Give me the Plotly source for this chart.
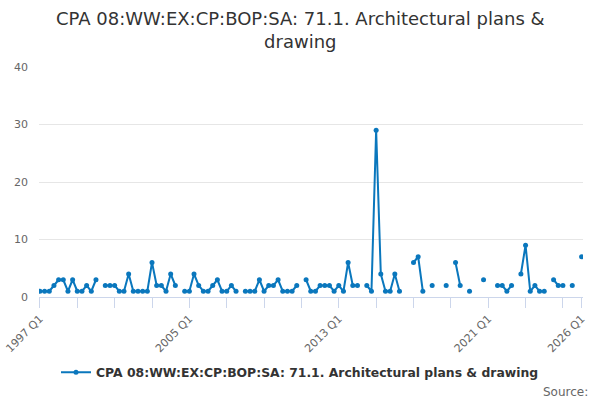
import plotly.graph_objects as go

# Quarterly series, 1997 Q1 .. 2026 Q1 (None = no value published)
years = list(range(1997, 2027))
quarters = [f"{y} Q{q}" for y in years for q in range(1, 5)][:117]

values = [
    1, 1, 1, 2, 3, 3, 1, 3, 1, 1, 2, 1, 3,          # 1997 Q1 - 2000 Q1
    None,
    2, 2, 2, 1, 1, 4, 1, 1, 1, 1, 6, 2, 2, 1, 4, 2,  # 2000 Q3 - 2004 Q2
    None,
    1, 1, 4, 2, 1, 1, 2, 3, 1, 1, 2, 1,              # 2004 Q4 - 2007 Q3
    None,
    1, 1, 1, 3, 1, 2, 2, 3, 1, 1, 1, 2,              # 2008 Q1 - 2010 Q4
    None,
    3, 1, 1, 2, 2, 2, 1, 2, 1, 6, 2, 2,              # 2011 Q2 - 2014 Q1
    None,
    2, 1, 29, 4, 1, 1, 4, 1,                         # 2014 Q3 - 2016 Q2
    None, None,
    6, 7, 1,                                         # 2017 Q1 - 2017 Q3
    None,
    2,
    None, None,
    2,
    None,
    6, 2,
    None,
    1,
    None, None,
    3,
    None, None,
    2, 2, 1, 2,                                      # 2021 Q3 - 2022 Q2
    None,
    4, 9, 1, 2, 1, 1,                                # 2022 Q4 - 2024 Q1
    None,
    3, 2, 2,
    None,
    2,
    None,
    7,                                               # 2026 Q1
]

# tick marks every two years, labels every eight years plus the last quarter
tick_vals = quarters[::8] + [quarters[-1]]
tick_text = [q if i % 4 == 0 else "" for i, q in enumerate(quarters[::8])] + [quarters[-1]]
tick_text[-2] = ""

title_text = "CPA 08:WW:EX:CP:BOP:SA: 71.1. Architectural plans &<br>drawing"
series_name = "CPA 08:WW:EX:CP:BOP:SA: 71.1. Architectural plans & drawing"
blue = "#0a77bd"

fig = go.Figure()
fig.add_trace(go.Scatter(
    x=quarters, y=values, mode="lines+markers",
    name="<b>" + series_name + "</b>",
    line=dict(color=blue, width=2),
    marker=dict(color=blue, size=5),
    connectgaps=False,
))

fig.update_layout(
    width=600, height=400,
    font=dict(family="DejaVu Sans", color="#333333"),
    margin=dict(l=39, r=17, t=67, b=103, autoexpand=False),
    plot_bgcolor="white", paper_bgcolor="white",
    showlegend=True,
    legend=dict(orientation="h", x=0.5, xanchor="center", xref="container",
                y=0.068, yanchor="middle", yref="container",
                font=dict(size=12.4, color="#333333")),
    xaxis=dict(type="category", categoryorder="array", categoryarray=quarters,
               range=[-0.2, 116.3], automargin=False,
               tickmode="array", tickvals=tick_vals, ticktext=tick_text,
               tickangle=-45, ticks="outside", ticklen=10, tickcolor="#ccd6eb",
               showline=True, linecolor="#ccd6eb", linewidth=1,
               showgrid=False, tickfont=dict(size=11, color="#666666")),
    yaxis=dict(range=[0, 40], tickvals=[0, 10, 20, 30, 40], automargin=False,
               showgrid=True, gridcolor="#e6e6e6", zeroline=False,
               ticklabelstandoff=10, tickfont=dict(size=11, color="#666666")),
)

# title as an annotation so both lines sit where the reference has them
fig.add_annotation(text=title_text, xref="paper", yref="paper",
                   x=(300 - 39) / 544, y=(297 - 30) / 230,
                   xanchor="center", yanchor="middle", showarrow=False,
                   font=dict(size=18, color="#333333"))

fig.add_annotation(text="Source:", xref="paper", yref="paper", x=1.012, y=-0.413,
                   xanchor="right", yanchor="middle", showarrow=False,
                   font=dict(size=12, color="#666666"))

# drop the browser's default body margin so the 600x400 figure fills the window
fig.write_html("out.html", config={"displayModeBar": False},
               post_script="document.body.style.margin='0';")
